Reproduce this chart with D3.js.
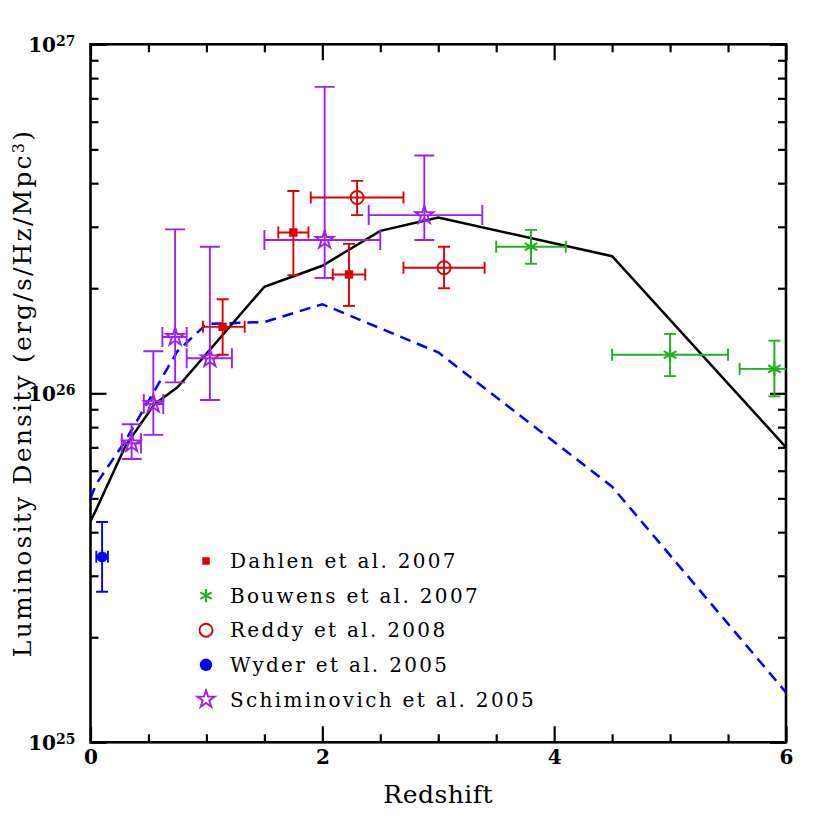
<!DOCTYPE html>
<html>
<head>
<meta charset="utf-8">
<script src="https://cdn.jsdelivr.net/npm/d3@7"></script>
<style>
  body { margin: 0; background: #fff; }
</style>
</head>
<body>
<script>
// model curves
const solidZ = [0, 0.05, 0.3, 0.55, 0.75, 1.5, 2, 2.5, 3, 4.5, 6];
const solidL = [4.3e25, 4.65e25, 7.05e25, 9.3e25, 1.04e26, 2.02e26, 2.32e26, 2.92e26, 3.19e26, 2.47e26, 7.0e25];
const dashZ = [0, 0.05, 0.3, 0.5, 0.75, 1.0, 1.5, 2.0, 3.0, 4.5, 6.0];
const dashL = [5.0e25, 5.5e25, 7.3e25, 9.5e25, 1.32e26, 1.58e26, 1.60e26, 1.80e26, 1.31e26, 5.4e25, 1.39e25];

// observations: z with range, luminosity density with range
const dahlen = [
  {z: 1.75, zLo: 1.62, zHi: 1.88, L: 2.89e26, lo: 2.18e26, hi: 3.80e26},
  {z: 2.23, zLo: 2.09, zHi: 2.37, L: 2.19e26, lo: 1.78e26, hi: 2.68e26},
  {z: 1.14, zLo: 0.97, zHi: 1.33, L: 1.55e26, lo: 1.29e26, hi: 1.86e26}
];
const bouwens = [
  {z: 3.8, zLo: 3.5, zHi: 4.1, L: 2.63e26, lo: 2.35e26, hi: 2.94e26},
  {z: 5.0, zLo: 4.5, zHi: 5.5, L: 1.29e26, lo: 1.12e26, hi: 1.48e26},
  {z: 5.9, zLo: 5.6, zHi: 6.2, L: 1.175e26, lo: 0.98e26, hi: 1.415e26}
];
const reddy = [
  {z: 2.3, zLo: 1.9, zHi: 2.7, L: 3.64e26, lo: 3.24e26, hi: 4.06e26},
  {z: 3.05, zLo: 2.7, zHi: 3.4, L: 2.29e26, lo: 2.0e26, hi: 2.63e26}
];
const wyder = [
  {z: 0.1, zLo: 0.05, zHi: 0.15, L: 3.4e25, lo: 2.7e25, hi: 4.28e25}
];
const schim = [
  {z: 0.355, zLo: 0.27, zHi: 0.436, L: 7.19e25, lo: 6.48e25, hi: 8.15e25},
  {z: 0.542, zLo: 0.46, zHi: 0.628, L: 9.32e25, lo: 7.6e25, hi: 1.32e26},
  {z: 0.73, zLo: 0.62, zHi: 0.83, L: 1.45e26, lo: 1.075e26, hi: 2.95e26},
  {z: 1.03, zLo: 0.83, zHi: 1.22, L: 1.26e26, lo: 9.57e25, hi: 2.63e26},
  {z: 2.02, zLo: 1.5, zHi: 2.5, L: 2.75e26, lo: 2.14e26, hi: 7.55e26},
  {z: 2.88, zLo: 2.4, zHi: 3.38, L: 3.24e26, lo: 2.75e26, hi: 4.80e26}
];

const legendNames = ["Dahlen et al. 2007", "Bouwens et al. 2007", "Reddy et al. 2008", "Wyder et al. 2005", "Schiminovich et al. 2005"];

const xMajor = [0, 2, 4, 6];
const xMinor = [0.5, 1, 1.5, 2.5, 3, 3.5, 4.5, 5, 5.5];
const yMajor = [1e25, 1e26, 1e27];
const yMinor = [2e25, 3e25, 4e25, 5e25, 6e25, 7e25, 8e25, 9e25, 2e26, 3e26, 4e26, 5e26, 6e26, 7e26, 8e26, 9e26];

const red = "#e00000", green = "#1eb01e", blue = "#0000ff", purple = "#a020f0";
const serif = "'DejaVu Serif', serif";

const margin = {left: 90.5, right: 786, top: 44.3, bottom: 742.3};
const width = margin.right - margin.left, height = margin.bottom - margin.top;

const svg = d3.select("body").append("svg")
  .attr("width", 830).attr("height", 830)
  .style("background", "#fff");

const g = svg.append("g").attr("transform", "translate(" + margin.left + "," + margin.top + ")");

const x = d3.scaleLinear().domain([0, 6]).range([0, width]);
const y = d3.scaleLog().domain([1e25, 1e27]).range([height, 0]);

g.append("clipPath").attr("id", "plotclip")
  .append("rect").attr("width", width).attr("height", height);

// ticks, all pointing inward
function tickStyle(sel) {
  sel.select(".domain").remove();
  sel.selectAll(".tick line").attr("stroke", "#000").attr("stroke-width", 2.2);
}
g.append("g").attr("transform", "translate(0," + height + ")")
  .call(d3.axisBottom(x).tickValues(xMajor).tickSize(-16).tickPadding(8).tickFormat(d3.format("d")))
  .call(tickStyle)
  .call(s => s.selectAll("text").attr("font-family", serif).attr("font-size", 20)
    .attr("font-weight", "bold").attr("fill", "#000"));
g.append("g").attr("transform", "translate(0," + height + ")")
  .call(d3.axisBottom(x).tickValues(xMinor).tickSize(-8).tickFormat(""))
  .call(tickStyle);
g.append("g")
  .call(d3.axisTop(x).tickValues(xMajor).tickSize(-16).tickFormat(""))
  .call(tickStyle);
g.append("g")
  .call(d3.axisTop(x).tickValues(xMinor).tickSize(-8).tickFormat(""))
  .call(tickStyle);

const yLeft = g.append("g")
  .call(d3.axisLeft(y).tickValues(yMajor).tickSize(-16).tickFormat(""))
  .call(tickStyle);
yLeft.selectAll(".tick").append("text")
  .attr("x", -15).attr("dy", "0.35em")
  .attr("text-anchor", "end")
  .attr("font-family", serif).attr("font-size", 20).attr("font-weight", "bold").attr("fill", "#000")
  .each(function(d) {
    const t = d3.select(this);
    t.append("tspan").text("10");
    t.append("tspan").attr("dy", "-0.45em").attr("font-size", 14).text(Math.round(Math.log10(d)));
  });
g.append("g")
  .call(d3.axisLeft(y).tickValues(yMinor).tickSize(-8).tickFormat(""))
  .call(tickStyle);
g.append("g").attr("transform", "translate(" + width + ",0)")
  .call(d3.axisRight(y).tickValues(yMajor).tickSize(-16).tickFormat(""))
  .call(tickStyle);
g.append("g").attr("transform", "translate(" + width + ",0)")
  .call(d3.axisRight(y).tickValues(yMinor).tickSize(-8).tickFormat(""))
  .call(tickStyle);

// frame
g.append("rect").attr("width", width).attr("height", height)
  .attr("fill", "none").attr("stroke", "#000").attr("stroke-width", 2.6);

// axis titles
svg.append("text").attr("x", margin.left + width / 2).attr("y", 803)
  .attr("text-anchor", "middle").attr("font-family", serif).attr("font-size", 25)
  .attr("letter-spacing", 0.5).text("Redshift");
const ylab = svg.append("text").attr("transform", "translate(31,393) rotate(-90)")
  .attr("text-anchor", "middle").attr("font-family", serif).attr("font-size", 25)
  .attr("letter-spacing", 2.2);
ylab.append("tspan").text("Luminosity Density (erg/s/Hz/Mpc");
ylab.append("tspan").attr("dy", "-0.45em").attr("font-size", 16).text("3");
ylab.append("tspan").attr("dy", "0.3em").text(")");

const plot = g.append("g").attr("clip-path", "url(#plotclip)");

// model lines
const line = d3.line().x(d => x(d[0])).y(d => y(d[1]));
plot.append("path").datum(d3.zip(dashZ, dashL))
  .attr("d", line).attr("fill", "none").attr("stroke", blue)
  .attr("stroke-width", 2.5).attr("stroke-dasharray", "11,7");
plot.append("path").datum(d3.zip(solidZ, solidL))
  .attr("d", line).attr("fill", "none").attr("stroke", "#000")
  .attr("stroke-width", 2.5);

// error bars and markers
function drawSet(data, color, cap, symbol) {
  const grp = plot.append("g").attr("stroke", color).attr("stroke-width", 1.9).attr("fill", "none");
  data.forEach(d => {
    const cx = x(d.z), cy = y(d.L);
    const eb = grp.append("g");
    eb.append("line").attr("x1", x(d.zLo)).attr("x2", x(d.zHi)).attr("y1", cy).attr("y2", cy);
    eb.append("line").attr("x1", x(d.zLo)).attr("x2", x(d.zLo)).attr("y1", cy - cap).attr("y2", cy + cap);
    eb.append("line").attr("x1", x(d.zHi)).attr("x2", x(d.zHi)).attr("y1", cy - cap).attr("y2", cy + cap);
    eb.append("line").attr("x1", cx).attr("x2", cx).attr("y1", y(d.lo)).attr("y2", y(d.hi));
    eb.append("line").attr("x1", cx - cap).attr("x2", cx + cap).attr("y1", y(d.lo)).attr("y2", y(d.lo));
    eb.append("line").attr("x1", cx - cap).attr("x2", cx + cap).attr("y1", y(d.hi)).attr("y2", y(d.hi));
    symbol(grp.append("g").attr("transform", "translate(" + cx + "," + cy + ")"), false);
  });
}

const markers = [
  (s, leg) => s.append("path").attr("d", d3.symbol(d3.symbolSquare, leg ? 56 : 70)())
    .attr("fill", red).attr("stroke", "none"),
  (s, leg) => s.append("path").attr("d", d3.symbol(d3.symbolAsterisk, leg ? 120 : 150)())
    .attr("fill", "none").attr("stroke", green).attr("stroke-width", 2.1),
  (s, leg) => s.append("circle").attr("r", 6.5)
    .attr("fill", "none").attr("stroke", red).attr("stroke-width", 1.9),
  (s, leg) => s.append("circle").attr("r", leg ? 6.2 : 5.4)
    .attr("fill", blue).attr("stroke", "none"),
  (s, leg) => s.append("path").attr("d", d3.symbol(d3.symbolStar, leg ? 92 : 100)())
    .attr("fill", "none").attr("stroke", purple).attr("stroke-width", 1.9)
];

drawSet(schim, purple, 10, markers[4]);
drawSet(dahlen, red, 6, markers[0]);
drawSet(reddy, red, 6, markers[2]);
drawSet(bouwens, green, 6, markers[1]);
drawSet(wyder, blue, 6, markers[3]);

// legend
const legend = svg.append("g");
legendNames.forEach((name, i) => {
  const ly = 561 + i * 34.6;
  markers[i](legend.append("g").attr("transform", "translate(206," + ly + ")"), true);
  legend.append("text").attr("x", 230).attr("y", ly).attr("dy", "0.36em")
    .attr("font-family", serif).attr("font-size", 20).attr("letter-spacing", 2.3)
    .attr("fill", "#000").text(name);
});
</script>
</body>
</html>
